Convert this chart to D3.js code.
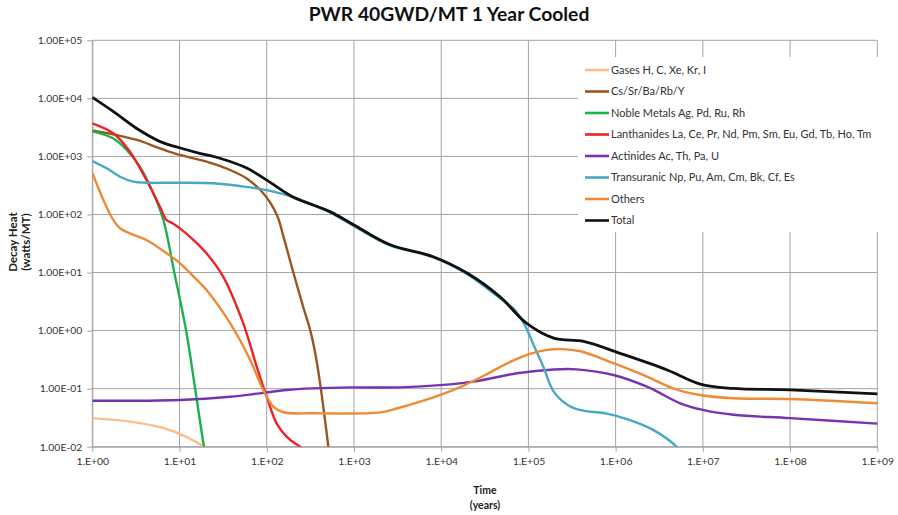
<!DOCTYPE html>
<html>
<head>
<meta charset="utf-8">
<script src="https://cdn.jsdelivr.net/npm/d3@7/dist/d3.min.js"></script>
<style>
  html, body { margin: 0; padding: 0; background: #fff; }
  svg { display: block; font-family: Lato, "Open Sans", sans-serif; }
</style>
</head>
<body>
<svg id="chart" width="898" height="515"></svg>
<script>
// Decay heat of PWR spent fuel (40 GWd/MT, 1 year cooled), by element group.
// Time in years, decay heat in watts per metric ton.

const seriesNames = [
  "Gases H, C, Xe, Kr, I",
  "Cs/Sr/Ba/Rb/Y",
  "Noble Metals Ag, Pd, Ru, Rh",
  "Lanthanides La, Ce, Pr, Nd, Pm, Sm, Eu, Gd, Tb, Ho, Tm",
  "Actinides Ac, Th, Pa, U",
  "Transuranic Np, Pu, Am, Cm, Bk, Cf, Es",
  "Others",
  "Total"
];

const gasesT = [1, 2.7, 6.5, 12, 19.5];
const gasesV = [0.031, 0.027, 0.021, 0.0148, 0.0098];

const csT = [1, 1.74, 3.24, 5.97, 10.1, 20.4, 38, 58.9, 91.2, 130, 158, 202, 263, 316, 363, 417, 508, 562];
const csV = [2800, 2400, 1920, 1380, 1060, 813, 583, 417, 232, 100, 38, 10, 2.5, 1.0, 0.38, 0.1, 0.0100, 0.0025];

const nobleT = [1, 1.74, 2.48, 3.52, 5.01, 6.53, 8.71, 11.9, 15.1, 19.1, 21];
const nobleV = [2700, 2040, 1290, 661, 232, 80.4, 10.0, 1.0, 0.1, 0.0100, 0.005];

const lanthT = [1, 1.74, 2.7, 4.17, 5.97, 7.0, 8.4, 10.1, 14.5, 20.4, 31.6, 53.7, 76.7, 100, 130, 170, 240, 270];
const lanthV = [3720, 2500, 1200, 393, 136, 82, 70, 57.5, 36.3, 21.4, 8.5, 1.34, 0.24, 0.072, 0.025, 0.0148, 0.0100, 0.0088];

const actT = [1, 10, 38, 83, 170, 339, 900, 3390, 1.06e4, 2.57e4, 7.41e4, 1.95e5, 3.59e5, 9.44e5, 2.29e6, 5.5e6, 1e7, 2.24e7, 1e8, 1e9];
const actV = [0.0617, 0.0638, 0.0724, 0.083, 0.095, 0.101, 0.105, 0.105, 0.116, 0.135, 0.184, 0.214, 0.215, 0.172, 0.108, 0.056, 0.043, 0.0355, 0.031, 0.025];

const truT = [1, 1.46, 2.08, 2.95, 4.17, 10.1, 24.5, 49, 100, 202, 532, 984, 2594, 8128, 1.97e4, 4.73e4, 6.76e4, 8.91e4, 1.15e5, 1.48e5, 1.95e5, 2.82e5, 3.98e5, 7.94e5, 1.46e6, 2.69e6, 5.0e6, 5.6e6];
const truV = [832, 624, 447, 367, 352, 352, 344, 309, 263, 198, 109, 64.0, 29.2, 18.3, 9.45, 3.6, 2.4, 1.32, 0.562, 0.24, 0.089, 0.0525, 0.0427, 0.0372, 0.0288, 0.0195, 0.0100, 0.008];

const othersT = [1, 1.34, 1.74, 2.08, 2.7, 4.17, 7.13, 10.1, 14.5, 20.4, 38, 64.6, 91.2, 119, 155, 339, 2000, 3160, 5620, 1e4, 1.78e4, 3.16e4, 5.62e4, 1e5, 1.58e5, 2.4e5, 3.98e5, 9.44e5, 2.29e6, 4.57e6, 9.3e6, 2.24e7, 1e8, 1e9];
const othersV = [525, 178, 80.4, 57.8, 47.4, 36.3, 21.4, 14.5, 8.5, 5.0, 1.34, 0.312, 0.095, 0.049, 0.0392, 0.0376, 0.039, 0.046, 0.059, 0.079, 0.112, 0.17, 0.27, 0.39, 0.46, 0.48, 0.44, 0.274, 0.161, 0.101, 0.0776, 0.0682, 0.0664, 0.056];

const totalT = [1, 1.75, 3.2, 6, 10, 17, 29, 59, 100, 200, 530, 1000, 2600, 8100, 2e4, 4.7e4, 9.5e4, 1.95e5, 4.3e5, 1.1e6, 3.9e6, 9.3e6, 2.2e7, 1e8, 1e9];
const totalV = [10400, 5900, 3050, 1800, 1410, 1130, 930, 630, 390, 200, 112, 66, 30, 18.7, 9.7, 3.84, 1.34, 0.74, 0.65, 0.41, 0.21, 0.12, 0.101, 0.095, 0.081];

const xTicks = [1e0, 1e1, 1e2, 1e3, 1e4, 1e5, 1e6, 1e7, 1e8, 1e9];
const yTicks = [1e-2, 1e-1, 1e0, 1e1, 1e2, 1e3, 1e4, 1e5];

const seriesData = [
  [gasesT, gasesV], [csT, csV], [nobleT, nobleV], [lanthT, lanthV],
  [actT, actV], [truT, truV], [othersT, othersV], [totalT, totalV]
];
const seriesColors = ["#fbbd8c", "#9a5520", "#1bb24e", "#ec2227", "#7535b0", "#47a8c4", "#ef8a36", "#111111"];

const series = seriesNames.map((name, i) => ({
  name,
  color: seriesColors[i],
  points: seriesData[i][0].map((t, j) => [t, seriesData[i][1][j]])
}));

const svg = d3.select("#chart");
const plot = { left: 92.3, right: 877.3, top: 40.3, bottom: 446.7 };

const x = d3.scaleLog().domain([1, 1e9]).range([plot.left, plot.right]);
const y = d3.scaleLog().domain([0.01, 1e5]).range([plot.bottom, plot.top]);

const pad2 = n => String(Math.abs(n)).padStart(2, "0");
const fmtX = v => { const e = Math.round(Math.log10(v)); return "1.E" + (e < 0 ? "-" : "+") + pad2(e); };
const fmtY = v => { const e = Math.round(Math.log10(v)); return "1.00E" + (e < 0 ? "-" : "+") + pad2(e); };

const gridColor = "#a3a3a3";

// gridlines
const grid = svg.append("g");
grid.selectAll("line.h").data(yTicks).join("line")
  .attr("x1", plot.left).attr("x2", plot.right)
  .attr("y1", d => y(d)).attr("y2", d => y(d))
  .attr("stroke", gridColor).attr("stroke-width", 1);
grid.selectAll("line.v").data(xTicks).join("line")
  .attr("y1", plot.top).attr("y2", plot.bottom)
  .attr("x1", d => x(d)).attr("x2", d => x(d))
  .attr("stroke", gridColor).attr("stroke-width", 1);

// axes
const yAxis = svg.append("g")
  .attr("transform", `translate(${plot.left},0)`)
  .call(d3.axisLeft(y).tickValues(yTicks).tickFormat(fmtY).tickSize(5).tickPadding(5).tickSizeOuter(0));
const xAxis = svg.append("g")
  .attr("transform", `translate(0,${plot.bottom})`)
  .call(d3.axisBottom(x).tickValues(xTicks).tickFormat(fmtX).tickSize(5).tickPadding(6).tickSizeOuter(0));
[yAxis, xAxis].forEach(a => {
  a.select(".domain").attr("stroke", gridColor);
  a.selectAll(".tick line").attr("stroke", gridColor);
  a.selectAll(".tick text").attr("fill", "#333").style("font-size", "10.4px")
    .style("font-family", "Lato, sans-serif");
});

// series lines
svg.append("clipPath").attr("id", "plotClip").append("rect")
  .attr("x", plot.left).attr("y", plot.top - 5)
  .attr("width", plot.right - plot.left + 5).attr("height", plot.bottom - plot.top + 5);

const line = d3.line()
  .x(d => x(d[0]))
  .y(d => y(d[1]))
  .curve(d3.curveCatmullRom.alpha(0.5));

svg.append("g").attr("clip-path", "url(#plotClip)")
  .selectAll("path").data(series).join("path")
  .attr("d", d => line(d.points))
  .attr("fill", "none")
  .attr("stroke", d => d.color)
  .attr("stroke-width", d => d.name === "Total" ? 2.8 : 2.4)
  .attr("stroke-linejoin", "round");

// legend
const legend = svg.append("g");
legend.append("rect")
  .attr("x", 578).attr("y", 57).attr("width", 306).attr("height", 175)
  .attr("fill", "#fff");
const items = legend.selectAll("g.item").data(series).join("g")
  .attr("transform", (d, i) => `translate(585,${70 + i * 21.5})`);
items.append("line")
  .attr("x1", 0).attr("x2", 24).attr("y1", 0).attr("y2", 0)
  .attr("stroke", d => d.color).attr("stroke-width", 2.6);
items.append("text")
  .attr("x", 26).attr("y", 0).attr("dy", "0.35em")
  .attr("fill", "#333").style("font-size", "11px")
  .text(d => d.name);

// titles
svg.append("text")
  .attr("x", 449).attr("y", 21)
  .attr("text-anchor", "middle")
  .style("font-size", "19.3px").style("font-weight", "700").attr("fill", "#111")
  .text("PWR 40GWD/MT 1 Year Cooled");

const xTitle = svg.append("text")
  .attr("text-anchor", "middle")
  .style("font-size", "10.5px").style("font-weight", "700").attr("fill", "#222");
xTitle.append("tspan").attr("x", 485).attr("y", 494).text("Time");
xTitle.append("tspan").attr("x", 485).attr("y", 509).text("(years)");

const yTitle = svg.append("text")
  .attr("transform", "translate(0,242) rotate(-90)")
  .attr("text-anchor", "middle")
  .style("font-size", "11.5px").style("font-weight", "700").attr("fill", "#222");
yTitle.append("tspan").attr("x", 0).attr("y", 16.5).text("Decay Heat");
yTitle.append("tspan").attr("x", 0).attr("y", 30).text("(watts/MT)");
</script>
</body>
</html>
